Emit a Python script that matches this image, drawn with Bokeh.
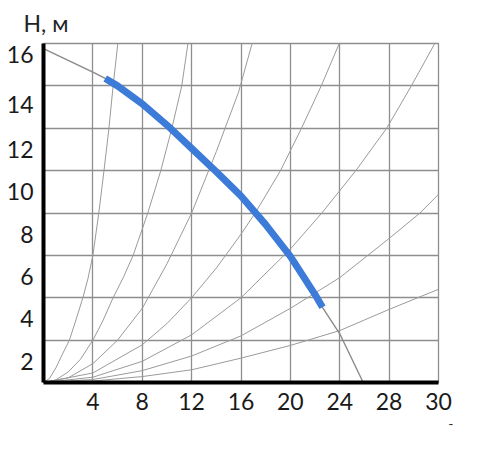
from bokeh.plotting import figure
from bokeh.models import Range1d, FixedTicker, Title
from bokeh.embed import file_html
from bokeh.resources import INLINE

# ---- data ----
x_ticks = [4, 8, 12, 16, 20, 24, 28, 32]
x_tick_labels = ["4", "8", "12", "16", "20", "24", "28", "30"]
x_grid = [0, 4, 8, 12, 16, 20, 24, 28, 32]
y_ticks = [1, 3, 5, 7, 9, 11, 13.1, 15.5]
y_tick_labels = ["2", "4", "6", "8", "10", "12", "14", "16"]
y_grid = [0, 2, 4, 6, 8, 10, 12, 14, 16]

# pump curve H(Q)
pump_q = [0, 2, 4, 5, 6, 8, 10, 12, 14, 16, 18, 20, 22, 22.6, 24, 25.9]
pump_h = [15.76, 15.2, 14.65, 14.35, 14.0, 13.15, 12.15, 11.05, 9.95, 8.8, 7.45, 5.95, 4.15, 3.55, 2.3, 0.0]
work_start, work_end = 3, 13  # indices of the working (blue) section

# system curves
sys1_q = [0, 0.5, 1.03, 1.5, 2.1, 2.6, 3.19, 3.6, 4.0, 4.48, 4.9, 5.3, 5.64, 6.02]
sys1_h = [0, 0.2, 0.72, 1.3, 2.0, 2.9, 4.0, 4.9, 6.0, 8.0, 10.0, 12.0, 14.0, 16.0]
sys2_q = [0, 1, 2, 3, 4, 4.8, 5.64, 6.5, 7.26, 8.45, 9.5, 10.4, 11.2, 11.7]
sys2_h = [0, 0.12, 0.5, 1.1, 2.0, 2.9, 4.0, 5.0, 6.0, 8.0, 10.0, 12.0, 14.0, 16.0]
sys3_q = [0, 2, 4, 6, 8, 10, 12, 14, 15.8, 16.9]
sys3_h = [0, 0.22, 0.89, 2.0, 3.5, 5.6, 8.0, 10.9, 13.7, 16.0]
sys4_q = [0, 4, 8, 10, 12, 14, 16, 17.15, 19.2, 20.9, 22.5, 23.96]
sys4_h = [0, 0.45, 1.78, 2.78, 4.0, 5.4, 7.0, 8.0, 10.0, 12.0, 14.0, 16.0]
sys5_q = [0, 4, 8, 12, 16, 20, 22.55, 25.3, 27.8, 29.8, 31.7]
sys5_h = [0, 0.25, 1.0, 2.25, 4.0, 6.3, 8.0, 10.0, 12.0, 14.0, 16.0]
sys6_q = [0, 4, 8, 12, 16, 20, 24, 28, 30.5, 32]
sys6_h = [0, 0.14, 0.56, 1.25, 2.2, 3.5, 4.95, 6.8, 8.0, 8.88]
sys7_q = [0, 4, 8, 12, 16, 20, 24, 28, 32]
sys7_h = [0, 0.07, 0.28, 0.6, 1.15, 1.75, 2.45, 3.45, 4.4]

title_text = "H, м"
x_unit_text = "-"

FONT = "Lato"
GRID = "#8e8e8e"
THIN = "#9a9a9a"
BLUE = "#3d7bd8"

p = figure(width=482, height=450, output_backend="svg", toolbar_location=None,
           x_range=Range1d(0, 32), y_range=Range1d(0, 16),
           min_border_left=43, min_border_right=44, min_border_top=42, min_border_bottom=68)

p.title.text = title_text
p.title.text_font = FONT
p.title.text_font_size = "23px"
p.title.text_font_style = "normal"
p.title.text_color = "#222222"
p.title.align = "left"
p.title.offset = -20
p.title.standoff = 13

p.outline_line_color = GRID
p.outline_line_width = 1.3

p.xgrid.ticker = FixedTicker(ticks=x_grid)
p.ygrid.ticker = FixedTicker(ticks=y_grid)
for g in (p.xgrid[0], p.ygrid[0]):
    g.grid_line_color = GRID
    g.grid_line_width = 1.3

for ax in (p.xaxis[0], p.yaxis[0]):
    ax.axis_line_color = "black"
    ax.axis_line_width = 4
    ax.major_tick_line_color = None
    ax.minor_tick_line_color = None
    ax.major_label_text_font = FONT
    ax.major_label_text_font_size = "23px"
    ax.major_label_text_color = "#1a1a1a"
    ax.major_tick_out = 0
    ax.major_tick_in = 0

p.xaxis[0].ticker = FixedTicker(ticks=x_ticks)
p.xaxis[0].major_label_overrides = {t: l for t, l in zip(x_ticks, x_tick_labels)}
p.xaxis[0].major_label_standoff = 10
p.yaxis[0].ticker = FixedTicker(ticks=y_ticks)
p.yaxis[0].major_label_overrides = {t: l for t, l in zip(y_ticks, y_tick_labels)}
p.yaxis[0].major_label_standoff = 10

for qs, hs in [(sys1_q, sys1_h), (sys2_q, sys2_h), (sys3_q, sys3_h), (sys4_q, sys4_h),
               (sys5_q, sys5_h), (sys6_q, sys6_h), (sys7_q, sys7_h)]:
    p.line(qs, hs, line_color=THIN, line_width=1)

p.line(pump_q, pump_h, line_color="#8a8a8a", line_width=1.4)
p.line(pump_q[work_start:work_end + 1], pump_h[work_start:work_end + 1],
       line_color=BLUE, line_width=7, line_cap="butt", line_join="round")

p.add_layout(Title(text=x_unit_text, align="right", text_font=FONT, text_font_size="14px",
                   text_font_style="normal", text_color="#333333", offset=-15, standoff=9), "below")

open("out.html", "w").write(file_html(p, INLINE))
